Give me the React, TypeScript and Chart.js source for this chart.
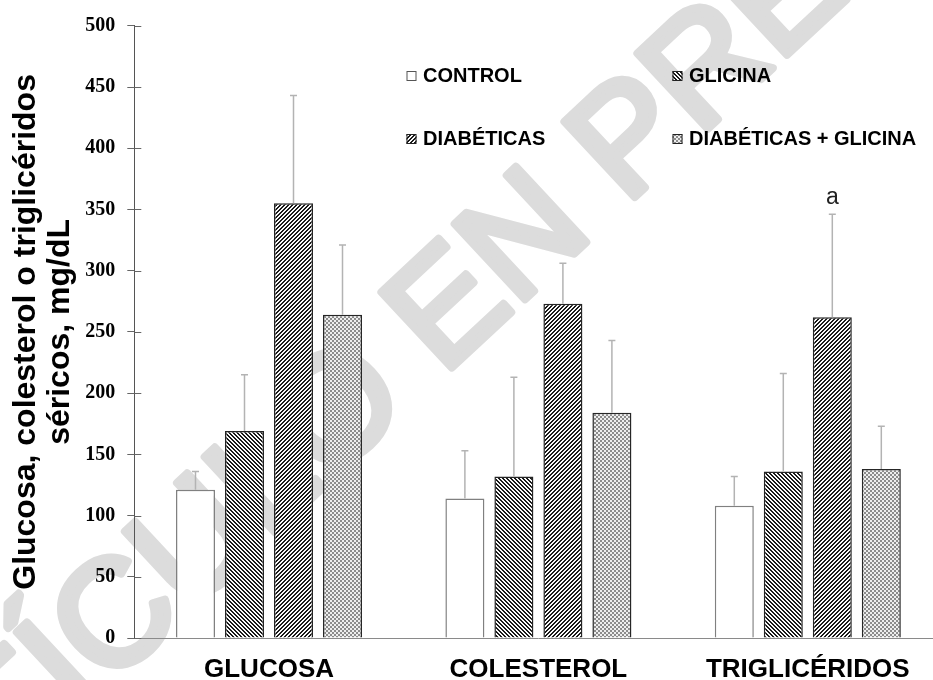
import React, { useEffect, useRef } from "react";
import { Chart, registerables } from "chart.js";

Chart.register(...registerables);

// ---------- data ----------
const categories = ["GLUCOSA", "COLESTEROL", "TRIGLICÉRIDOS"];
const seriesNames = ["CONTROL", "GLICINA", "DIABÉTICAS", "DIABÉTICAS + GLICINA"];

const controlValues = [121, 114, 108];
const glicinaValues = [169, 132, 136];
const diabeticasValues = [355, 273, 262];
const diabGlicinaValues = [264, 184, 138];

const controlErrors = [15, 39, 24];
const glicinaErrors = [46, 81, 80];
const diabeticasErrors = [88, 33, 84];
const diabGlicinaErrors = [57, 59, 35];

const yMin = 0;
const yMax = 500;
const yStep = 50;

const yTitleLines = ["Glucosa, colesterol o triglicéridos", "séricos, mg/dL"];
const significanceLabel = "a";
const significanceSeries = 2;
const significanceCategory = 2;
const watermarkText = "ARTÍCULO EN PRENSA";

const seriesValues = [controlValues, glicinaValues, diabeticasValues, diabGlicinaValues];
const seriesErrors = [controlErrors, glicinaErrors, diabeticasErrors, diabGlicinaErrors];

// ---------- helpers ----------
type PatternKind = "none" | "back" | "fwd" | "check";
const seriesPatterns: PatternKind[] = ["none", "back", "fwd", "check"];
const seriesBorders = ["#808080", "#262626", "#262626", "#262626"];

function makePattern(kind: PatternKind): CanvasPattern | string {
  if (kind === "none") return "#ffffff";
  const c = document.createElement("canvas");
  const s = 4;
  c.width = s;
  c.height = s;
  const g = c.getContext("2d")!;
  const img = g.createImageData(s, s);
  for (let y = 0; y < s; y++) {
    for (let x = 0; x < s; x++) {
      let v = 255;
      if (kind === "back") v = ((x - y + 8) % 4) < 2 ? 25 : 250;
      if (kind === "fwd") v = ((x + y) % 4) < 2 ? 25 : 250;
      if (kind === "check") v = (((x >> 1) + (y >> 1)) % 2) === 0 ? 140 : 238;
      const k = (y * s + x) * 4;
      img.data[k] = v;
      img.data[k + 1] = v;
      img.data[k + 2] = v;
      img.data[k + 3] = 255;
    }
  }
  g.putImageData(img, 0, 0);
  return g.createPattern(c, "repeat")!;
}

export default function App() {
  const ref = useRef<HTMLCanvasElement>(null);

  useEffect(() => {
    document.body.style.overflow = "hidden";
    const canvas = ref.current!;
    const fills = seriesPatterns.map(makePattern);

    const backgroundPlugin = {
      id: "bgWatermark",
      beforeDraw(chart: any) {
        const ctx = chart.ctx as CanvasRenderingContext2D;
        ctx.save();
        ctx.fillStyle = "#ffffff";
        ctx.fillRect(0, 0, chart.width, chart.height);
        ctx.translate(440, 322);
        ctx.rotate((-43 * Math.PI) / 180);
        ctx.font = '150px "Liberation Sans", Arial, sans-serif';
        ctx.fillStyle = "#dcdcdc";
        ctx.strokeStyle = "#dcdcdc";
        ctx.lineWidth = 8;
        ctx.lineJoin = "round";
        ctx.lineCap = "round";
        ctx.textAlign = "center";
        ctx.textBaseline = "middle";
        ctx.fillText(watermarkText, 0, 0);
        ctx.strokeText(watermarkText, 0, 0);
        ctx.restore();
      },
    };

    const innerTicksPlugin = {
      id: "innerTicks",
      beforeDatasetsDraw(chart: any) {
        const ctx = chart.ctx as CanvasRenderingContext2D;
        const y = chart.scales.y;
        const left = chart.chartArea.left;
        ctx.save();
        ctx.strokeStyle = "#666666";
        ctx.lineWidth = 1;
        y.ticks.forEach((t: any) => {
          const py = Math.round(y.getPixelForValue(t.value)) + 0.5;
          ctx.beginPath();
          ctx.moveTo(left, py);
          ctx.lineTo(left + 7, py);
          ctx.stroke();
        });
        ctx.restore();
      },
    };

    const errorBarPlugin = {
      id: "errorBars",
      afterDatasetsDraw(chart: any) {
        const ctx = chart.ctx as CanvasRenderingContext2D;
        const y = chart.scales.y;
        ctx.save();
        ctx.strokeStyle = "#b3b3b3";
        ctx.lineWidth = 1.5;
        chart.data.datasets.forEach((ds: any, i: number) => {
          const meta = chart.getDatasetMeta(i);
          meta.data.forEach((bar: any, j: number) => {
            const v = ds.data[j];
            const e = seriesErrors[i][j];
            const yTop = y.getPixelForValue(v + e);
            ctx.beginPath();
            ctx.moveTo(bar.x, bar.y);
            ctx.lineTo(bar.x, yTop);
            ctx.moveTo(bar.x - 3.5, yTop);
            ctx.lineTo(bar.x + 3.5, yTop);
            ctx.stroke();
          });
        });
        // significance label
        const bar = chart.getDatasetMeta(significanceSeries).data[significanceCategory];
        const v = seriesValues[significanceSeries][significanceCategory];
        const e = seriesErrors[significanceSeries][significanceCategory];
        const yTop = y.getPixelForValue(v + e);
        ctx.fillStyle = "#222222";
        ctx.font = '23px "Liberation Sans", Arial, sans-serif';
        ctx.textAlign = "center";
        ctx.textBaseline = "alphabetic";
        ctx.fillText(significanceLabel, bar.x, yTop - 10);
        ctx.restore();
      },
    };

    const legendPlugin = {
      id: "customLegend",
      afterDraw(chart: any) {
        const ctx = chart.ctx as CanvasRenderingContext2D;
        const colX = [406.5, 672.5];
        const rowY = [76, 139];
        ctx.save();
        ctx.font = 'bold 20px "Liberation Sans", Arial, sans-serif';
        ctx.textBaseline = "middle";
        ctx.textAlign = "left";
        seriesNames.forEach((name, i) => {
          const bx = colX[i % 2];
          const by = rowY[Math.floor(i / 2)];
          ctx.fillStyle = fills[i] as any;
          ctx.fillRect(bx, by - 5, 10, 10);
          ctx.strokeStyle = i === 0 ? "#555555" : "#222222";
          ctx.lineWidth = 1;
          ctx.strokeRect(bx + 0.5, by - 4.5, 9, 9);
          ctx.fillStyle = "#000000";
          ctx.fillText(name, bx + 16.5, by);
        });
        ctx.restore();
      },
    };

    const chart = new Chart(canvas, {
      type: "bar",
      data: {
        labels: categories,
        datasets: seriesNames.map((name, i) => ({
          label: name,
          data: seriesValues[i],
          backgroundColor: fills[i] as any,
          borderColor: seriesBorders[i],
          borderWidth: 1.5,
          categoryPercentage: 0.7276,
          barPercentage: 0.796,
        })),
      },
      options: {
        animation: false,
        responsive: false,
        devicePixelRatio: 1,
        layout: { padding: { top: 25.8, left: 0, right: 2.5, bottom: 2 } },
        plugins: {
          legend: { display: false },
          tooltip: { enabled: false },
          title: { display: false },
        },
        scales: {
          x: {
            type: "category",
            offset: true,
            grid: { display: false, drawTicks: false },
            border: { display: true, color: "#8a8a8a", width: 1 },
            ticks: {
              color: "#000000",
              padding: 16.7,
              maxRotation: 0,
              autoSkip: false,
              font: {
                family: '"Liberation Sans", Arial, sans-serif',
                weight: "bold",
                size: 26,
                lineHeight: 1.2,
              },
            },
            afterFit: (scale: any) => {
              scale.height = 60;
            },
          },
          y: {
            min: yMin,
            max: yMax,
            grid: {
              drawOnChartArea: false,
              drawTicks: true,
              tickLength: 7,
              color: "#666666",
              tickColor: "#666666",
            },
            border: { display: true, color: "#555555", width: 1 },
            ticks: {
              stepSize: yStep,
              color: "#000000",
              padding: 12,
              font: {
                family: '"Liberation Serif", "Times New Roman", serif',
                weight: "bold",
                size: 20,
              },
            },
            title: {
              display: true,
              text: yTitleLines,
              color: "#000000",
              padding: { top: 8.3, bottom: 0 },
              font: {
                family: '"Liberation Sans", Arial, sans-serif',
                weight: "bold",
                size: 32,
                lineHeight: 1.09,
              },
            },
            afterFit: (scale: any) => {
              scale.width = 134.3;
            },
          },
        },
      },
      plugins: [backgroundPlugin, innerTicksPlugin, errorBarPlugin, legendPlugin],
    });

    return () => chart.destroy();
  }, []);

  return (
    <canvas
      ref={ref}
      width={945}
      height={700}
      style={{ position: "fixed", left: 0, top: 0, display: "block" }}
    />
  );
}
